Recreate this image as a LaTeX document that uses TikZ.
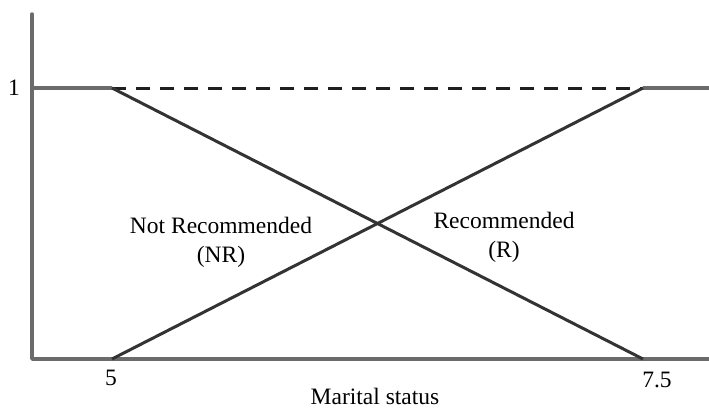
\documentclass[tikz,border=0pt]{standalone}
\usepackage{fontspec}
\setmainfont{Liberation Serif}
\begin{document}
\begin{tikzpicture}[x=1pt,y=-1pt,
  axisline/.style={line width=3.5pt,color=black!58,line cap=round,line join=round},
  member/.style={line width=3pt,color=black!80},
  lvl/.style={line width=3pt,color=black!88,dash pattern=on 14pt off 10pt},
  lbl/.style={font=\fontsize{23.5}{27}\selectfont,inner sep=0pt,align=center}]
\useasboundingbox (0,0) rectangle (709,408);
\coordinate (top) at (32,14);
\coordinate (origin) at (32,359);
\coordinate (xend) at (709,359);
\coordinate (one) at (32,88);
\coordinate (a1) at (112,88);
\coordinate (b1) at (643,88);
\coordinate (a0) at (112,359);
\coordinate (b0) at (643,359);
\coordinate (oneend) at (709,88);
% axes
\draw[axisline] (top) -- (origin) -- (xend);
\draw[axisline,line cap=butt] (one) -- (a1);
\draw[axisline,line cap=butt] (b1) -- (oneend);
% dashed level
\draw[lvl] (a1) -- (b1);
% membership lines
\draw[member] (a1) -- (b0);
\draw[member] (a0) -- (b1);
% labels
\node[lbl] (l1) at (14,88) {1};
\node[lbl] (l5) at (111,378) {5};
\node[lbl] (l75) at (657,380) {7.5};
\node[lbl] (xl) at (375,396) {Marital status};
\node[lbl] (nr) at (221,242) {Not Recommended\\[2pt](NR)};
\node[lbl] (r) at (504,237) {Recommended\\[2pt](R)};
\end{tikzpicture}
\end{document}
